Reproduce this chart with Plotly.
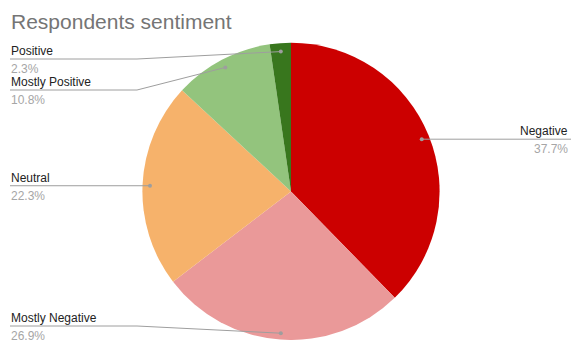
import math
import plotly.graph_objects as go

# Survey results
categories = ["Negative", "Mostly Negative", "Neutral", "Mostly Positive", "Positive"]
shares = [37.7, 26.9, 22.3, 10.8, 2.3]
slice_colors = ["#cc0000", "#ea9999", "#f6b26b", "#93c47d", "#38761d"]
chart_title = "Respondents sentiment"

W, H = 571, 340

# Pie placement (pixels)
CX, CY, R = 291, 191.4, 148.6
dom_x = [(CX - R) / W, (CX + R) / W]
dom_y = [0, 2 * R / H]


def px(x):
    return x / W


def py(y):
    return 1 - y / H


fig = go.Figure(
    go.Pie(
        labels=categories,
        values=shares,
        sort=False,
        direction="clockwise",
        rotation=0,
        marker=dict(colors=slice_colors, line=dict(width=0)),
        textinfo="none",
        hoverinfo="label+percent",
        domain=dict(x=dom_x, y=dom_y),
        showlegend=False,
    )
)

# Leader lines and labels, computed from slice mid-angles
total = sum(shares)
cum = 0.0
items = []
for name, v in zip(categories, shares):
    mid = (cum + v / 2) / total * 2 * math.pi
    cum += v
    dx = CX + 0.95 * R * math.sin(mid)
    dy = CY + 1 - 0.95 * R * math.cos(mid)
    items.append(dict(name=name, v=v, dx=dx, dy=dy, right=math.sin(mid) > 0))

# Spread labels on each side so they do not overlap
SPACING, Y_MIN, Y_MAX = 31, 59, 326
for side in (True, False):
    group = sorted([it for it in items if it["right"] == side], key=lambda it: it["dy"])
    prev = None
    for it in group:
        ly = min(max(it["dy"], Y_MIN), Y_MAX)
        if prev is not None and ly < prev + SPACING:
            ly = prev + SPACING
        it["ly"] = ly
        prev = ly

shapes = []
annotations = []
LINE_COL = "#9e9e9e"
BEND_L, EDGE_L = 137, 10
EDGE_R, BEND_R = 571, 450
FONT = "Liberation Sans, Arial"
for it in items:
    ly = it["ly"]
    if it["right"]:
        path = f"M {px(it['dx'])},{py(it['dy'])} L {px(BEND_R)},{py(ly)} L {px(EDGE_R)},{py(ly)}"
        tx, anchor = 570, "right"
    else:
        path = f"M {px(it['dx'])},{py(it['dy'])} L {px(BEND_L)},{py(ly)} L {px(EDGE_L)},{py(ly)}"
        tx, anchor = 9, "left"
    shapes.append(dict(type="path", path=path, xref="paper", yref="paper",
                       line=dict(color=LINE_COL, width=1)))
    shapes.append(dict(type="circle", xref="paper", yref="paper",
                       x0=px(it["dx"] - 2), x1=px(it["dx"] + 2),
                       y0=py(it["dy"] - 2), y1=py(it["dy"] + 2),
                       fillcolor=LINE_COL, line=dict(width=0)))
    annotations.append(dict(x=px(tx), y=py(ly - 8), xref="paper", yref="paper",
                            text=it["name"], showarrow=False, xanchor=anchor, yanchor="middle",
                            font=dict(family=FONT, size=12, color="#222222")))
    annotations.append(dict(x=px(tx), y=py(ly + 10), xref="paper", yref="paper",
                            text=f"{it['v'] / total * 100:.1f}%", showarrow=False,
                            xanchor=anchor, yanchor="middle",
                            font=dict(family=FONT, size=12, color="#a6a6a6")))

annotations.append(dict(x=px(9), y=py(21), xref="paper", yref="paper", text=chart_title,
                        showarrow=False, xanchor="left", yanchor="middle",
                        font=dict(family=FONT, size=21, color="#757575")))

fig.update_layout(
    width=W, height=H,
    margin=dict(l=0, r=0, t=0, b=0),
    paper_bgcolor="white",
    shapes=shapes,
    annotations=annotations,
)

fig.write_html("out.html")
